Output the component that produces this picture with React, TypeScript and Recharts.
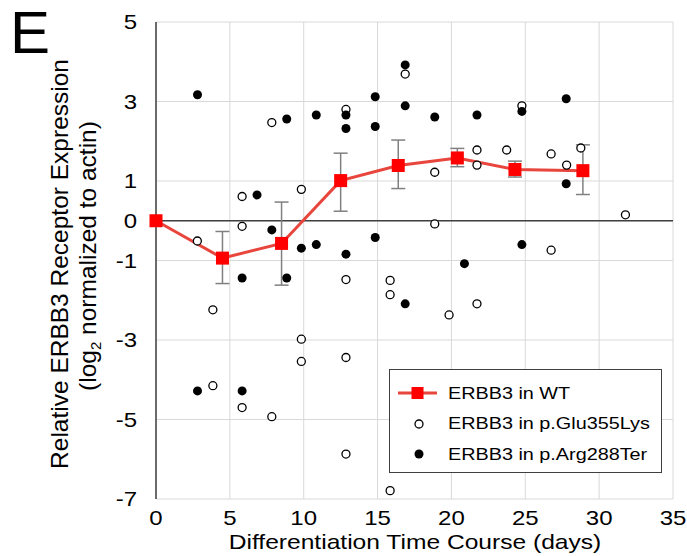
import { ComposedChart, Line, Scatter, XAxis, YAxis, CartesianGrid, ReferenceLine, ErrorBar, Legend } from 'recharts';

const xTicks = [0, 5, 10, 15, 20, 25, 30, 35];
const yTicks = [-7, -5, -3, -1, 0, 1, 3, 5];

// WT mean with error bars
const wtX = [0, 4.5, 8.5, 12.5, 16.4, 20.4, 24.3, 28.9];
const wtY = [0, -0.94, -0.57, 1.01, 1.39, 1.58, 1.29, 1.26];
const wtErrLow = [null, 0.64, 1.05, 0.77, 0.58, 0.22, 0.19, 0.6];
const wtErrHigh = [null, 0.67, 1.04, 0.69, 0.64, 0.24, 0.21, 0.65];

// p.Glu355Lys (open circles)
const gluX = [0, 2.8, 3.85, 3.85, 5.83, 5.83, 5.83, 7.84, 7.84, 9.84, 9.84, 9.84, 12.86, 12.86, 12.86, 12.86, 15.85, 15.85, 15.85, 16.87, 18.87, 18.87, 19.84, 21.73, 21.73, 21.73, 23.74, 24.77, 26.75, 26.75, 27.8, 28.76, 31.78];
const gluY = [0, -0.51, -2.24, -4.15, 0.61, -0.14, -4.7, 2.47, -4.93, 0.79, -2.98, -3.54, 2.8, -1.48, -3.44, -5.87, -1.5, -1.86, -6.79, 3.69, 1.22, -0.08, -2.37, 1.78, 1.4, -2.09, 1.78, 2.89, 1.68, -0.74, 1.4, 1.83, 0.15];

// p.Arg288Ter (filled circles)
const argX = [0, 2.81, 2.81, 5.83, 5.83, 6.84, 7.84, 8.85, 8.85, 9.84, 10.85, 10.85, 12.86, 12.86, 12.86, 14.84, 14.84, 14.84, 16.87, 16.87, 16.87, 18.87, 20.88, 21.73, 24.77, 24.77, 27.77, 27.77];
const argY = [0, 3.17, -4.28, -1.44, -4.28, 0.65, -0.23, 2.56, -1.44, -0.69, 2.66, -0.6, 2.66, 2.32, -0.84, 3.12, 2.37, -0.42, 3.92, 2.89, -2.09, 2.61, -1.08, 2.66, 2.75, -0.6, 3.07, 0.93];

const wtData = wtX.map((x, i) => ({
  x,
  y: wtY[i],
  err: wtErrLow[i] == null ? null : [wtErrLow[i], wtErrHigh[i]],
}));
const gluData = gluX.map((x, i) => ({ x, y: gluY[i] }));
const argData = argX.map((x, i) => ({ x, y: argY[i] }));

const FONT = '"Liberation Sans", Arial, sans-serif';
const RED = '#ff0000';
// the source figure is stretched sideways a little, so horizontal text is widened
const STRETCH = 1.2;

const SquareDot = (props: any) => {
  const { cx, cy } = props;
  if (cx == null || cy == null) return null;
  return <rect x={cx - 6.5} y={cy - 6.5} width={13} height={13} fill={RED} />;
};

const OpenDot = (props: any) => (
  <circle cx={props.cx} cy={props.cy} r={4} fill="#fff" stroke="#000" strokeWidth={1.3} />
);

const FilledDot = (props: any) => (
  <circle cx={props.cx} cy={props.cy} r={4.5} fill="#000" />
);

const XTick = (props: any) => {
  const { x, y, payload } = props;
  return (
    <text
      transform={`translate(${x},${y + 25.5}) scale(${STRETCH},1)`}
      textAnchor="middle"
      fontSize={20}
      fontFamily={FONT}
      fill="#000"
    >
      {payload.value}
    </text>
  );
};

const YTick = (props: any) => {
  const { x, y, payload } = props;
  return (
    <text
      transform={`translate(${x - 19},${y + 7}) scale(${STRETCH},1)`}
      textAnchor="end"
      fontSize={20}
      fontFamily={FONT}
      fill="#000"
    >
      {payload.value}
    </text>
  );
};

const YLabel = () => (
  <g fontFamily={FONT} fill="#000">
    <text x={10} y={53} fontSize={60}>E</text>
    <text transform="rotate(-90)" x={-264} y={68} fontSize={24.5} textAnchor="middle">
      Relative ERBB3 Receptor Expression
    </text>
    <text transform="rotate(-90)" x={-256} y={95.5} fontSize={24.5} textAnchor="middle">
      (log<tspan fontSize={15} dy={5}>2</tspan>
      <tspan dy={-5}> normalized to actin)</tspan>
    </text>
  </g>
);

const XLabel = () => (
  <text
    transform={`translate(415,548.5) scale(${STRETCH},1)`}
    fontSize={20.5}
    fontFamily={FONT}
    textAnchor="middle"
    fill="#000"
  >
    Differentiation Time Course (days)
  </text>
);

const legendRows = [
  { name: 'ERBB3 in WT', kind: 'wt' },
  { name: 'ERBB3 in p.Glu355Lys', kind: 'open' },
  { name: 'ERBB3 in p.Arg288Ter', kind: 'filled' },
];

const renderLegend = () => (
  <div
    style={{
      border: '1.5px solid #404040',
      background: '#fff',
      boxSizing: 'border-box',
      width: 273,
      height: 104,
      padding: '8px 0 0 8px',
      fontFamily: FONT,
      fontSize: 16.5,
      color: '#000',
    }}
  >
    {legendRows.map((r) => (
      <div key={r.name} style={{ display: 'flex', alignItems: 'center', height: 30.5 }}>
        <svg width={43} height={20} style={{ marginRight: 7, flex: 'none' }}>
          {r.kind === 'wt' && (
            <>
              <line x1={0} y1={10} x2={39} y2={10} stroke="#e8453c" strokeWidth={3} />
              <rect x={13.5} y={4} width={12} height={12} fill={RED} />
            </>
          )}
          {r.kind === 'open' && <circle cx={21} cy={10} r={4} fill="#fff" stroke="#000" strokeWidth={1.3} />}
          {r.kind === 'filled' && <circle cx={21} cy={10} r={4.5} fill="#000" />}
        </svg>
        <span style={{ display: 'inline-block', transform: `scaleX(${STRETCH})`, transformOrigin: 'left center', whiteSpace: 'nowrap' }}>
          {r.name}
        </span>
      </div>
    ))}
  </div>
);

export default function App() {
  return (
    <div style={{ position: 'absolute', left: 0, top: 0, background: '#fff' }}>
      <ComposedChart width={687} height={556} margin={{ top: 22, right: 14, bottom: 0, left: 0 }}>
        <CartesianGrid stroke="#d9d9d9" strokeWidth={1} />
        <XAxis
          type="number"
          dataKey="x"
          domain={[0, 35]}
          ticks={xTicks}
          interval={0}
          axisLine={false}
          tickLine={false}
          tickSize={0}
          tickMargin={0}
          height={57}
          tick={<XTick />}
          label={<XLabel />}
        />
        <YAxis
          type="number"
          dataKey="y"
          domain={[-7, 5]}
          ticks={yTicks}
          interval={0}
          allowDataOverflow
          width={156}
          axisLine={{ stroke: '#404040', strokeWidth: 1.5 }}
          tickLine={false}
          tickSize={0}
          tickMargin={0}
          tick={<YTick />}
          label={<YLabel />}
        />
        <ReferenceLine y={0} stroke="#404040" strokeWidth={1.5} />
        <Line
          data={wtData}
          dataKey="y"
          stroke="#e8453c"
          strokeWidth={3}
          dot={<SquareDot />}
          activeDot={false}
          isAnimationActive={false}
          legendType="none"
        >
          <ErrorBar dataKey="err" direction="y" width={7} stroke="#808080" strokeWidth={1.5} />
        </Line>
        <Scatter data={gluData} dataKey="y" shape={<OpenDot />} isAnimationActive={false} />
        <Scatter data={argData} dataKey="y" shape={<FilledDot />} isAnimationActive={false} />
        <Legend
          layout="vertical"
          align="center"
          verticalAlign="middle"
          content={renderLegend}
          wrapperStyle={{ position: 'absolute', left: 389, top: 369, width: 273, height: 104 }}
        />
      </ComposedChart>
    </div>
  );
}
